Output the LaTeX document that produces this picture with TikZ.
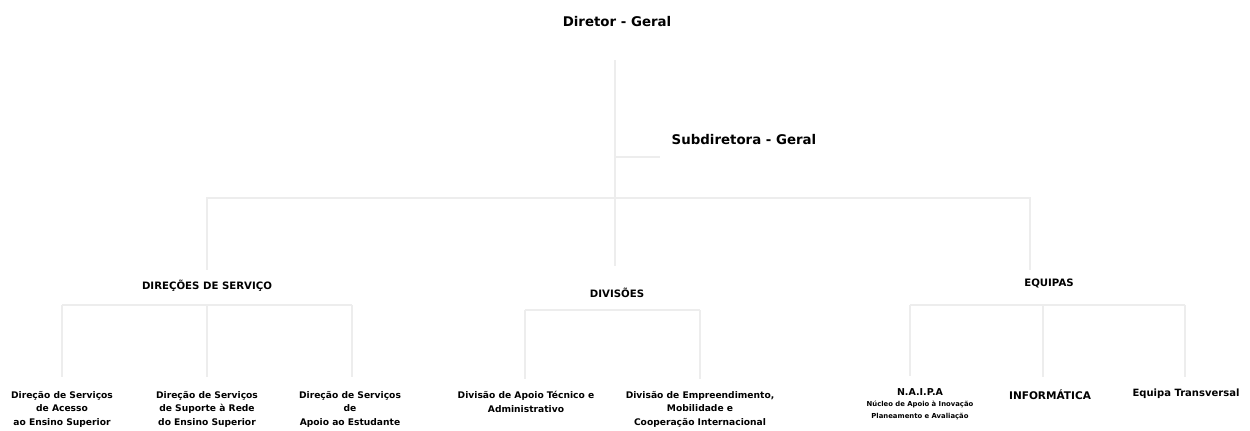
\documentclass[tikz,border=0pt]{standalone}
\usepackage{fontspec}
\setmainfont{DejaVu Sans}

\begin{document}
\begin{tikzpicture}[x=0.02cm,y=-0.02cm]

\tikzset{chief/.style = {font=\bfseries\fontsize{7.6}{9}\selectfont, inner sep=0pt}}
\tikzset{group/.style = {font=\bfseries\fontsize{5.8}{7}\selectfont, inner sep=0pt}}
\tikzset{unit/.style = {font=\bfseries\fontsize{5.2}{7.6}\selectfont, align=center, inner sep=0pt, anchor=north}}
\tikzset{edge/.style = {draw=black!7, line width=0.8pt}}
\useasboundingbox (0,0) rectangle (1250,430);
%top
\node[chief] (dg) at (617,22) {Diretor - Geral};
\node[chief] (sdg) at (744,140) {Subdiretora - Geral};
%groups
\node[group] (ds) at (207,286) {DIREÇÕES DE SERVIÇO};
\node[group] (dv) at (617,293) {DIVISÕES};
\node[group] (eq) at (1049,283) {EQUIPAS};
%units
\node[unit] (ds1) at (62,391) {Direção de Serviços\\de Acesso\\ao Ensino Superior};
\node[unit] (ds2) at (207,391) {Direção de Serviços\\de Suporte à Rede\\do Ensino Superior};
\node[unit] (ds3) at (350,391) {Direção de Serviços\\de\\Apoio ao Estudante};
\node[unit] (dv1) at (526,391) {Divisão de Apoio Técnico e\\Administrativo};
\node[unit] (dv2) at (700,391) {Divisão de Empreendimento,\\Mobilidade e\\Cooperação Internacional};
\node[unit, font=\bfseries\fontsize{3.9}{6.6}\selectfont] (eq1) at (920,388) {{\fontsize{5.4}{6}\selectfont N.A.I.P.A}\\Núcleo de Apoio à Inovação\\Planeamento e Avaliação};
\node[unit, font=\bfseries\fontsize{6}{7}\selectfont] (eq2) at (1050,389) {INFORMÁTICA};
\node[unit, font=\bfseries\fontsize{5.7}{7}\selectfont] (eq3) at (1186,389) {Equipa Transversal};
%junctions
\coordinate (t1) at (615,60);
\coordinate (t2) at (615,157);
\coordinate (t3) at (615,198);
\coordinate (t4) at (615,266);
\coordinate (s1) at (660,157);
\coordinate (l1) at (207,198);
\coordinate (l2) at (207,270);
\coordinate (r1) at (1030,198);
\coordinate (r2) at (1030,270);
\coordinate (a1) at (62,305);
\coordinate (a2) at (207,305);
\coordinate (a3) at (352,305);
\coordinate (b1) at (525,310);
\coordinate (b2) at (700,310);
\coordinate (c1) at (910,305);
\coordinate (c2) at (1043,305);
\coordinate (c3) at (1185,305);
%edges
\draw[edge] (t1) -- (t4);
\draw[edge] (t2) -- (s1);
\draw[edge] (l2) -- (l1) -- (r1) -- (r2);
\draw[edge] (a1) -- (a3);
\foreach \c/\u in {a1/ds1, a2/ds2, a3/ds3} \draw[edge] (\c) -- ([yshift=8pt]\c |- \u.north);
\draw[edge] (b1) -- (b2);
\foreach \c/\u in {b1/dv1, b2/dv2} \draw[edge] (\c) -- ([yshift=7pt]\c |- \u.north);
\draw[edge] (c1) -- (c3);
\foreach \c/\u in {c1/eq1, c2/eq2, c3/eq3} \draw[edge] (\c) -- ([yshift=7pt]\c |- \u.north);

\end{tikzpicture}
\end{document}
